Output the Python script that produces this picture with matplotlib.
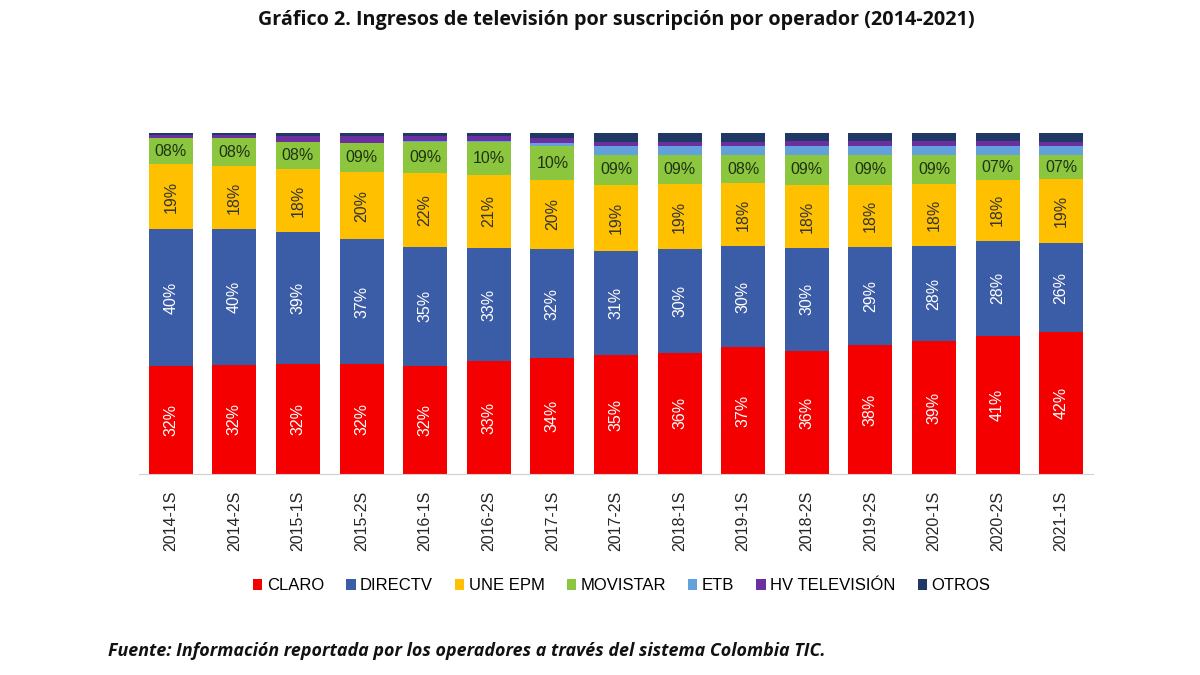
import numpy as np
import matplotlib.pyplot as plt

periodos = ['2014-1S', '2014-2S', '2015-1S', '2015-2S', '2016-1S', '2016-2S', '2017-1S', '2017-2S',
            '2018-1S', '2019-1S', '2018-2S', '2019-2S', '2020-1S', '2020-2S', '2021-1S']

claro = [31.7, 32.0, 32.3, 32.3, 31.7, 33.1, 34.0, 34.9, 35.6, 37.2, 36.1, 37.8, 39.0, 40.6, 41.6]
directv = [40.1, 39.8, 38.7, 36.6, 35.0, 33.2, 32.0, 30.6, 30.3, 29.7, 30.2, 28.8, 27.9, 27.8, 26.1]
une_epm = [19.1, 18.4, 18.4, 19.6, 21.6, 21.4, 20.2, 19.3, 19.0, 18.4, 18.4, 18.2, 18.1, 17.9, 18.8]
movistar = [7.6, 8.3, 8.0, 8.6, 9.1, 9.6, 10.0, 8.7, 8.6, 8.2, 8.9, 8.8, 8.6, 7.3, 7.0]
etb = [0.0, 0.0, 0.0, 0.0, 0.3, 0.4, 0.9, 2.7, 2.6, 2.6, 2.5, 2.6, 2.5, 2.6, 2.6]
hv_television = [0.8, 0.8, 1.8, 2.0, 1.3, 1.5, 1.4, 1.2, 1.3, 1.4, 1.5, 1.5, 1.6, 1.5, 1.4]
otros = [0.7, 0.7, 0.8, 0.9, 1.0, 0.8, 1.5, 2.6, 2.6, 2.5, 2.4, 2.3, 2.3, 2.3, 2.5]

series = [
    ('CLARO', claro, '#f40000', 'white', 90),
    ('DIRECTV', directv, '#3b5ca6', 'white', 90),
    ('UNE EPM', une_epm, '#ffc000', '#333333', 90),
    ('MOVISTAR', movistar, '#8cc63f', '#1e3312', 0),
    ('ETB', etb, '#62a1dc', None, 0),
    ('HV TELEVISIÓN', hv_television, '#6b2fa0', None, 0),
    ('OTROS', otros, '#1f3864', None, 0),
]

plt.rcParams['font.family'] = ['Liberation Sans', 'DejaVu Sans']

fig = plt.figure(figsize=(12, 6.75), dpi=100)
ax = fig.add_axes([139 / 1200, 1 - 474 / 675, 954 / 1200, 341 / 675])

x = np.arange(len(periodos))
bottom = np.zeros(len(periodos))
for name, vals, color, tcolor, rot in series:
    vals = np.array(vals)
    ax.bar(x, vals, 0.69, bottom=bottom, color=color, label=name, linewidth=0)
    if tcolor is not None:
        for xi, b, v in zip(x, bottom, vals):
            ax.text(xi, b + v / 2, '{:02.0f}%'.format(v), ha='center', va='center',
                    rotation=rot, color=tcolor, fontsize=11.5)
    bottom += vals

ax.set_xlim(-0.5, len(periodos) - 0.5)
ax.set_ylim(0, 100)
ax.set_xticks(x)
ax.set_xticklabels(periodos, rotation=90, fontsize=11.5, color='#262626')
ax.tick_params(axis='x', length=0, pad=12)
ax.set_yticks([])
for s in ['top', 'right', 'left']:
    ax.spines[s].set_visible(False)
ax.spines['bottom'].set_color('#d0d0d0')

fig.legend(loc='center', bbox_to_anchor=(0.518, 1 - 586 / 675), ncol=7, frameon=False,
           fontsize=12, handlelength=0.55, handleheight=0.6, handletextpad=0.25,
           columnspacing=1.35)

fig.text(0.514, 1 - 20 / 675, 'Gráfico 2. Ingresos de televisión por suscripción por operador (2014-2021)',
         ha='center', va='center', fontsize=14.2, fontweight='bold', family='Open Sans', color='#111111')
fig.text(108 / 1200, 1 - 651 / 675, 'Fuente: Información reportada por los operadores a través del sistema Colombia TIC.',
         ha='left', va='center', fontsize=12.9, fontweight='bold', style='italic', family='Open Sans',
         color='#111111')

fig.savefig('out.png', dpi=100, facecolor='white')
